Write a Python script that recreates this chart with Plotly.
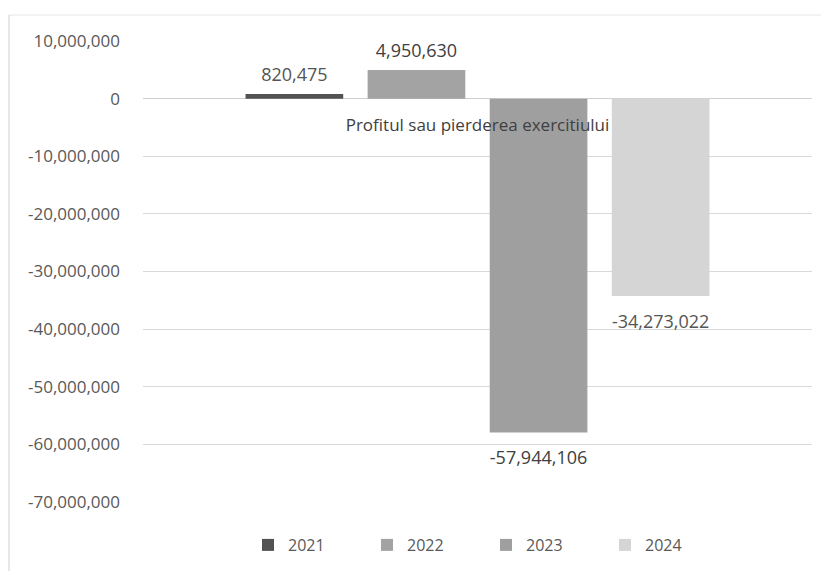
import plotly.graph_objects as go

categories = ["Profitul sau pierderea exercitiului"]
years = ["2021", "2022", "2023", "2024"]
values = [820475, 4950630, -57944106, -34273022]
colors = ["#525252", "#a3a3a3", "#9f9f9f", "#d5d5d5"]
text_colors = ["#555555", "#404040", "#404040", "#555555"]
tick_vals = list(range(-70_000_000, 10_000_001, 10_000_000))
tick_text = [f"{v:,}" for v in tick_vals]

FONT = "Open Sans"
FS = 17
LABEL_FS = 18
SPACER_POS, SPACER_NEG = 6, 12   # small spacer line keeps labels a bit away from the bar end

fig = go.Figure()
for yr, v, c, tc in zip(years, values, colors, text_colors):
    num = f"<span style='font-size:{LABEL_FS}px'>{v:,}</span>"
    if v >= 0:
        label, base = num + "<br>\u00a0", SPACER_POS
    else:
        label, base = "\u00a0<br>" + num, SPACER_NEG
    fig.add_trace(go.Bar(
        name=yr, x=categories, y=[v],
        marker=dict(color=c, line=dict(width=0)),
        text=[label], textposition="outside",
        textfont=dict(family=FONT, size=base, color=tc),
        cliponaxis=False,
    ))

y_min, y_max = -70_000_000, 10_000_000
zero_pos = (0 - y_min) / (y_max - y_min)

# page body has an 8px margin; target pixel positions are shifted accordingly
OFF = 8
W, H = 829, 571
L, T = 143 - OFF, 41 - OFF
pw, ph = 669, 461
R, B = W - L - pw, H - T - ph

def py(pix):  # page pixel y -> paper fraction
    return (T + ph - (pix - OFF)) / ph

def px(pix):  # page pixel x -> paper fraction
    return (pix - OFF - L) / pw

fig.update_layout(
    width=W, height=H,
    margin=dict(l=L, r=R, t=T, b=B, autoexpand=False),
    paper_bgcolor="white", plot_bgcolor="white",
    barmode="group", bargap=0.27, bargroupgap=0.2,
    font=dict(family=FONT, size=FS, color="#555555"),
    showlegend=True,
    legend=dict(orientation="h", x=px(486), xanchor="center",
                y=py(545), yanchor="middle",
                font=dict(family=FONT, size=FS - 1, color="#595959"),
                itemwidth=30, entrywidth=74, entrywidthmode="pixels", tracegroupgap=0),
    xaxis=dict(anchor="free", position=zero_pos, showgrid=False, showline=False,
               ticks="", zeroline=False,
               tickfont=dict(family=FONT, size=FS, color="#404040"),
               ticklabelstandoff=14),
    yaxis=dict(range=[y_min, y_max], tickvals=tick_vals, ticktext=tick_text,
               showgrid=True, gridcolor="#d9d9d9", gridwidth=1,
               zeroline=True, zerolinecolor="#d0d0d0", zerolinewidth=1,
               showline=False, ticks="", ticklabelstandoff=22,
               tickfont=dict(family=FONT, size=FS, color="#595959")),
    shapes=[
        dict(type="line", xref="paper", yref="paper", x0=px(9), x1=px(840),
             y0=py(15), y1=py(15), line=dict(color="#e6e6e6", width=1)),
        dict(type="line", xref="paper", yref="paper", x0=px(9), x1=px(9),
             y0=py(15), y1=py(600), line=dict(color="#d0d0d0", width=1)),
    ],
)

fig.write_html("out.html")
